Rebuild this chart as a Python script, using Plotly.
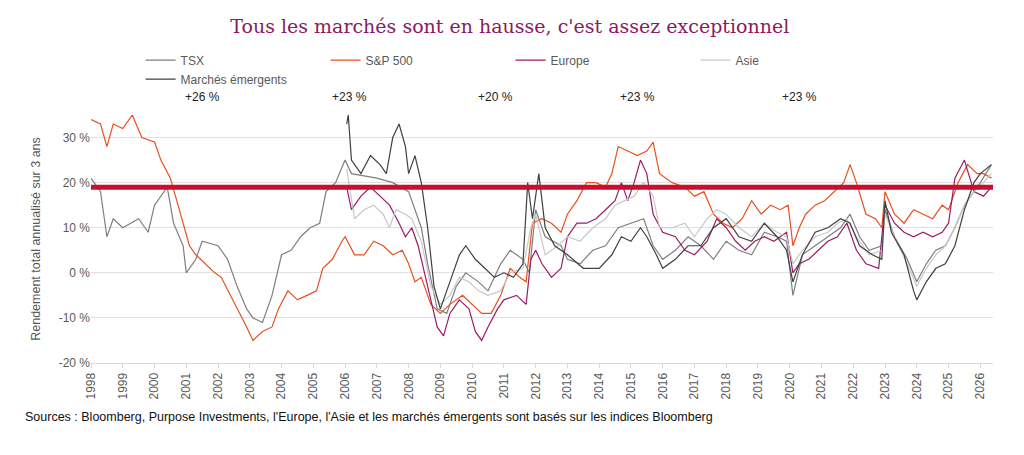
import plotly.graph_objects as go

# Rendement total annualisé sur 3 ans (%)
tsx_x = [1998, 1998.3, 1998.5, 1998.7, 1999, 1999.5, 1999.8, 2000, 2000.4, 2000.6, 2000.9, 2001, 2001.3, 2001.5,
         2002, 2002.3, 2002.6, 2002.9, 2003.1, 2003.4, 2003.7, 2004, 2004.3, 2004.6, 2004.9, 2005.2, 2005.4, 2005.7,
         2006, 2006.2, 2007, 2007.5, 2008, 2008.4, 2008.6, 2008.9, 2009.2, 2009.5, 2009.8, 2010.2, 2010.5, 2010.9,
         2011.2, 2011.6, 2011.8, 2012, 2012.3, 2012.8, 2013, 2013.4, 2013.8, 2014.2, 2014.6, 2015, 2015.4, 2015.7,
         2016, 2016.4, 2016.8, 2017.2, 2017.6, 2018, 2018.4, 2018.8, 2019.2, 2019.6, 2019.9, 2020.1, 2020.4, 2020.8,
         2021.2, 2021.6, 2021.9, 2022.2, 2022.5, 2022.9, 2023, 2023.3, 2023.7, 2024, 2024.3, 2024.6, 2024.9, 2025.2,
         2025.5, 2025.8, 2026, 2026.35]
tsx_y = [21, 18, 8, 12, 10, 12, 9, 15, 19, 11, 6, 0, 3, 7,
         6, 3, -3, -8, -10, -11, -5, 4, 5, 8, 10, 11, 18, 20,
         25, 22, 21, 20, 18, 10, 2, -8, -9, -3, 0, -2, -4, 2,
         5, 3, 0, 14, 8, 6, 3, 2, 5, 6, 10, 11, 12, 6,
         3, 5, 8, 6, 3, 7, 5, 4, 9, 8, 7, -5, 4, 6,
         8, 10, 13, 8, 5, 6, 14, 8, 3, -2, 2, 5, 6, 10,
         15, 18, 20, 24]

sp_x = [1998, 1998.3, 1998.5, 1998.7, 1999, 1999.3, 1999.6, 2000, 2000.2, 2000.5, 2000.7, 2000.9, 2001.1, 2001.3,
        2001.6, 2001.9, 2002.1, 2002.4, 2002.6, 2002.9, 2003.1, 2003.4, 2003.7, 2003.9, 2004.2, 2004.5, 2004.8,
        2005.1, 2005.3, 2005.6, 2005.9, 2006, 2006.3, 2006.6, 2006.9, 2007.2, 2007.5, 2007.8, 2008, 2008.2, 2008.4,
        2008.7, 2009, 2009.3, 2009.7, 2010, 2010.3, 2010.6, 2010.9, 2011.2, 2011.5, 2011.7, 2011.9, 2012.2, 2012.5,
        2012.8, 2013, 2013.3, 2013.6, 2013.9, 2014.2, 2014.4, 2014.6, 2014.9, 2015.2, 2015.5, 2015.7, 2015.9, 2016.3,
        2016.7, 2017, 2017.3, 2017.6, 2017.9, 2018.2, 2018.5, 2018.8, 2019.1, 2019.4, 2019.7, 2019.95, 2020.1, 2020.3,
        2020.5, 2020.8, 2021.1, 2021.4, 2021.7, 2021.9, 2022.1, 2022.4, 2022.7, 2022.9, 2023, 2023.3, 2023.6, 2023.9,
        2024.2, 2024.5, 2024.8, 2025, 2025.3, 2025.6, 2025.9, 2026.1, 2026.35]
sp_y = [34, 33, 28, 33, 32, 35, 30, 29, 25, 21, 16, 11, 6, 4,
        2, 0, -1, -5, -8, -12, -15, -13, -12, -8, -4, -6, -5,
        -4, 1, 3, 7, 8, 4, 4, 7, 6, 4, 5, 2, -2, -1,
        -7, -9, -7, -5, -7, -9, -9, -5, 1, -1, -2, 11, 12, 11,
        9, 13, 16, 20, 20, 19, 22, 28, 27, 26, 27, 29, 22, 20,
        19, 17, 18, 13, 11, 10, 12, 16, 13, 15, 14, 15, 6, 10,
        13, 15, 16, 18, 20, 24, 20, 13, 12, 10, 18, 13, 11, 14,
        13, 12, 15, 14, 20, 24, 22, 22, 21]

eu_x = [2006.05, 2006.2, 2006.5, 2006.8, 2007.1, 2007.4, 2007.7, 2007.9, 2008.1, 2008.3, 2008.6, 2008.9, 2009.1,
        2009.3, 2009.6, 2009.9, 2010.1, 2010.3, 2010.5, 2010.8, 2011, 2011.4, 2011.7, 2011.85, 2012, 2012.2, 2012.5,
        2012.8, 2013, 2013.3, 2013.6, 2013.9, 2014.2, 2014.5, 2014.7, 2014.9, 2015.1, 2015.3, 2015.5, 2015.7, 2016,
        2016.4, 2016.7, 2017, 2017.4, 2017.7, 2018, 2018.3, 2018.6, 2018.9, 2019.2, 2019.5, 2019.9, 2020.1, 2020.3,
        2020.6, 2020.9, 2021.2, 2021.5, 2021.8, 2022.1, 2022.4, 2022.8, 2023, 2023.3, 2023.6, 2023.9, 2024.2, 2024.5,
        2024.8, 2025, 2025.2, 2025.5, 2025.8, 2026.1, 2026.35]
eu_y = [19, 14, 17, 19, 17, 15, 11, 8, 10, 6, -3, -12, -14,
        -9, -6, -8, -13, -15, -12, -8, -6, -5, -7, 3, 5, 2, -1,
        1, 8, 11, 11, 12, 14, 16, 20, 16, 20, 25, 22, 13, 9,
        8, 5, 4, 7, 12, 10, 7, 5, 7, 8, 7, 9, 0, 2,
        3, 5, 7, 8, 11, 5, 2, 1, 15, 11, 9, 8, 9, 8,
        9, 11, 21, 25, 18, 17, 19]

asia_x = [2006.05, 2006.3, 2006.6, 2006.9, 2007.2, 2007.4, 2007.6, 2007.9, 2008.1, 2008.4, 2008.7, 2009, 2009.3,
          2009.6, 2009.9, 2010.2, 2010.5, 2010.9, 2011.2, 2011.6, 2011.85, 2012, 2012.3, 2012.7, 2013, 2013.4,
          2013.8, 2014.2, 2014.5, 2014.8, 2015.1, 2015.4, 2015.7, 2015.9, 2016.3, 2016.7, 2017, 2017.4, 2017.7, 2018,
          2018.4, 2018.8, 2019.2, 2019.6, 2019.9, 2020.1, 2020.4, 2020.8, 2021.2, 2021.5, 2021.8, 2022.1, 2022.5,
          2022.9, 2023, 2023.3, 2023.7, 2024, 2024.3, 2024.6, 2024.9, 2025.2, 2025.5, 2025.8, 2026.1, 2026.35]
asia_y = [23, 12, 14, 15, 13, 10, 14, 13, 12, 7, -3, -7, -5,
          -1, -2, -4, -5, -4, 0, 1, 10, 13, 4, 6, 8, 7,
          10, 12, 15, 16, 17, 20, 17, 10, 10, 11, 8, 12, 14, 13,
          10, 8, 11, 9, 8, 2, 5, 8, 9, 11, 12, 8, 4,
          5, 13, 8, 2, -3, 1, 4, 6, 10, 15, 18, 20, 22]

em_x = [2006.05, 2006.1, 2006.2, 2006.5, 2006.8, 2007.1, 2007.3, 2007.5, 2007.7, 2007.9, 2008, 2008.2, 2008.4,
        2008.6, 2008.8, 2009, 2009.3, 2009.6, 2009.8, 2010.1, 2010.4, 2010.7, 2011, 2011.3, 2011.6, 2011.75, 2011.9,
        2012.1, 2012.3, 2012.6, 2013, 2013.5, 2014, 2014.4, 2014.7, 2015, 2015.3, 2015.5, 2015.8, 2016, 2016.4,
        2016.8, 2017.2, 2017.6, 2018, 2018.4, 2018.8, 2019.2, 2019.6, 2019.9, 2020.1, 2020.4, 2020.8, 2021.2,
        2021.6, 2021.9, 2022.2, 2022.6, 2022.9, 2023, 2023.2, 2023.6, 2023.9, 2024, 2024.3, 2024.6, 2024.9, 2025.2,
        2025.5, 2025.8, 2026, 2026.35]
em_y = [33, 35, 25, 22, 26, 24, 22, 30, 33, 28, 22, 26, 20,
        10, -3, -8, -2, 4, 6, 3, 1, -1, 0, -1, 2, 20, 12,
        22, 10, 6, 4, 1, 1, 4, 8, 7, 10, 8, 4, 1, 3,
        6, 6, 10, 12, 8, 7, 11, 8, 5, -2, 4, 9, 10,
        12, 11, 6, 4, 3, 16, 9, 4, -4, -6, -2, 1, 2, 6,
        14, 20, 22, 24]

names = ["TSX", "S&P 500", "Europe", "Asie", "Marchés émergents"]
gains = ["+26 %", "+23 %", "+20 %", "+23 %", "+23 %"]
ref_level = 19
years = list(range(1998, 2027))
ytick_vals = [-20, -10, 0, 10, 20, 30]
ytick_text = ["-20 %", "-10 %", "0 %", "10 %", "20 %", "30 %"]

series = [(tsx_x, tsx_y, "#7f7f7f"), (sp_x, sp_y, "#e8501e"), (eu_x, eu_y, "#9b1b6a"),
          (asia_x, asia_y, "#c8c8c8"), (em_x, em_y, "#404040")]

fig = go.Figure()
for name, (x, y, c) in zip(names, series):
    fig.add_trace(go.Scatter(x=x, y=y, name=name, mode="lines", line=dict(color=c, width=1.2)))

fig.add_hline(y=ref_level, line=dict(color="#c8102e", width=5))

gain_x = [0.102, 0.265, 0.448, 0.606, 0.807]
for gx, g in zip(gain_x, gains):
    fig.add_annotation(x=gx, y=1.11, xref="paper", yref="paper", text=g, showarrow=False,
                       font=dict(size=12, color="#222222"))

fig.add_annotation(x=-0.075, y=-0.255, xref="paper", yref="paper", xanchor="left", showarrow=False,
                   text="Sources : Bloomberg, Purpose Investments, l'Europe, l'Asie et les marchés émergents sont basés sur les indices Bloomberg",
                   font=dict(size=12.5, color="#111111"))

fig.update_layout(
    width=1024, height=455,
    margin=dict(l=83, r=39, t=107, b=100),
    paper_bgcolor="white", plot_bgcolor="white",
    font=dict(family="Liberation Sans, Arial", color="#595959"),
    title=dict(text="Tous les marchés sont en hausse, c'est assez exceptionnel", x=0.49, y=0.975,
               xanchor="center", font=dict(family="DejaVu Serif, Georgia, serif", size=19, color="#8b1a5e")),
    legend=dict(orientation="h", x=0.055, y=1.28, xanchor="left", yanchor="top",
                entrywidth=140, font=dict(size=12, color="#595959")),
    showlegend=True,
)
fig.update_xaxes(range=[1998, 2026.4], tickvals=years, ticktext=[str(v) for v in years], tickangle=-90,
                 showgrid=False, ticks="outside", ticklen=4, tickcolor="#d9d9d9",
                 showline=True, linecolor="#d9d9d9", tickfont=dict(size=12, color="#595959"))
fig.update_yaxes(range=[-20, 35], tickvals=ytick_vals, ticktext=ytick_text, showgrid=True, gridcolor="#e0e0e0",
                 zeroline=False, title=dict(text="Rendement total annualisé sur 3 ans", font=dict(size=12.5)),
                 tickfont=dict(size=12, color="#595959"))
fig.write_html("out.html")
